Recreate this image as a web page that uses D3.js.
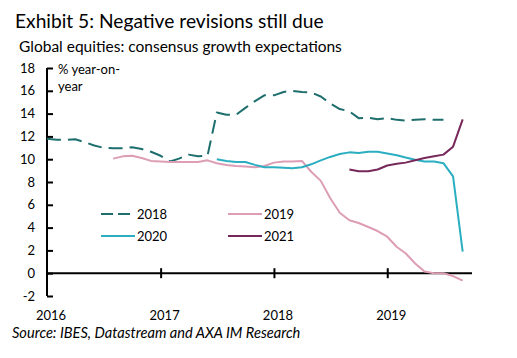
<!DOCTYPE html>
<html>
<head>
<meta charset="utf-8">
<script src="https://cdn.jsdelivr.net/npm/d3@7"></script>
<style>
  html, body { margin: 0; padding: 0; background: #fff; }
  svg { display: block; font-family: Lato, "Open Sans", sans-serif; }
</style>
</head>
<body>
<svg id="chart" width="517" height="358"></svg>
<script>
// ---- data (monthly, index 0 = Jan 2016) ----
const startMonth = "2016-01";
const seriesNames = ["2018", "2019", "2020", "2021"];
const startIdx2018 = 0;
const values2018 = [11.8, 11.7, 11.7, 11.75, 11.5, 11.2, 11.0, 10.95, 10.95, 11.05, 10.9, 10.65,
  10.3, 9.8, 10.05, 10.4, 10.25, 10.3, 14.1, 13.9, 13.9, 14.5, 15.1, 15.6,
  15.6, 15.9, 16.0, 15.9, 15.85, 15.5, 14.9, 14.4, 14.2, 13.6, 13.65, 13.5,
  13.6, 13.45, 13.4, 13.45, 13.5, 13.45, 13.45];
const startIdx2019 = 7;
const values2019 = [10.05, 10.25, 10.3, 10.1, 9.85,
  9.8, 9.75, 9.75, 9.75, 9.75, 9.9, 9.65, 9.5, 9.4, 9.35, 9.3, 9.4,
  9.7, 9.8, 9.8, 9.85, 8.9, 8.1, 6.6, 5.3, 4.65, 4.4, 4.05, 3.7,
  3.2, 2.3, 1.75, 0.85, 0.15, 0.0, 0.0, -0.25, -0.65];
const startIdx2020 = 18;
const values2020 = [10.0, 9.85, 9.75, 9.75, 9.5, 9.3,
  9.3, 9.25, 9.2, 9.3, 9.55, 9.9, 10.2, 10.45, 10.6, 10.55, 10.65, 10.65,
  10.5, 10.35, 10.15, 9.95, 9.8, 9.8, 9.65, 8.5, 1.9];
const startIdx2021 = 32;
const values2021 = [9.1, 8.95, 8.95, 9.1,
  9.45, 9.6, 9.7, 9.9, 10.1, 10.25, 10.4, 11.1, 13.5];
const yTicks = [-2, 0, 2, 4, 6, 8, 10, 12, 14, 16, 18];
const xTickYears = ["2016", "2017", "2018", "2019"];

// ---- styles ----
const colors = { "2018": "#1f6e6e", "2019": "#dc9db5", "2020": "#2aaec0", "2021": "#76285b" };
const dashes = { "2018": "14,7", "2019": null, "2020": null, "2021": null };

const parseMonth = d3.timeParse("%Y-%m");
const t0 = parseMonth(startMonth);
function toSeries(start, vals) {
  return vals.map((v, i) => ({ date: d3.timeMonth.offset(t0, start + i), value: v }));
}
const series = {
  "2018": toSeries(startIdx2018, values2018),
  "2019": toSeries(startIdx2019, values2019),
  "2020": toSeries(startIdx2020, values2020),
  "2021": toSeries(startIdx2021, values2021)
};

const svg = d3.select("#chart");

// titles
svg.append("text").attr("x", 15).attr("y", 28)
  .attr("font-size", 19.2).attr("fill", "#000")
  .text("Exhibit 5: Negative revisions still due");
svg.append("text").attr("x", 19).attr("y", 52)
  .attr("font-size", 15.5).attr("fill", "#000")
  .text("Global equities: consensus growth expectations");

const x = d3.scaleTime()
  .domain([t0, d3.timeMonth.offset(t0, 45)])
  .range([47, 472]);
const y = d3.scaleLinear().domain([-2, 18]).range([296, 68]);

// y axis
const yAxis = d3.axisRight(y).tickValues(yTicks).tickSize(6).tickFormat("");
const gy = svg.append("g").attr("transform", `translate(${x.range()[0]},0)`).call(yAxis);
gy.select(".domain").attr("stroke", "#000").attr("stroke-width", 2)
  .attr("d", `M0,${y(-2)}V${y(18)}`);
gy.selectAll(".tick line").attr("stroke", "#000").attr("stroke-width", 2);
svg.append("g").selectAll("text").data(yTicks).join("text")
  .attr("x", 35).attr("y", d => y(d)).attr("dy", "0.35em")
  .attr("text-anchor", "end").attr("font-size", 13).attr("fill", "#000")
  .text(d => d);

// x axis at zero
const yearDates = xTickYears.map(s => d3.timeParse("%Y")(s));
const xAxis = d3.axisBottom(x).tickValues(yearDates.slice(1)).tickSize(10).tickFormat("");
const gx = svg.append("g").attr("transform", `translate(0,${y(0) - 5})`).call(xAxis);
gx.select(".domain").remove();
gx.selectAll(".tick line").attr("stroke", "#000").attr("stroke-width", 2);
svg.append("line").attr("x1", x.range()[0]).attr("x2", x.range()[1])
  .attr("y1", y(0)).attr("y2", y(0)).attr("stroke", "#000").attr("stroke-width", 2);
svg.append("g").selectAll("text").data(yearDates).join("text")
  .attr("x", d => x(d) + 4).attr("y", 320)
  .attr("text-anchor", "middle").attr("font-size", 13).attr("fill", "#000")
  .text((d, i) => xTickYears[i]);

// unit label
svg.append("text").attr("x", 58).attr("y", 74).attr("font-size", 13).text("% year-on-");
svg.append("text").attr("x", 58).attr("y", 91).attr("font-size", 13).text("year");

// lines
const line = d3.line().x(d => x(d.date)).y(d => y(d.value));
seriesNames.forEach(name => {
  svg.append("path").datum(series[name])
    .attr("fill", "none")
    .attr("stroke", colors[name])
    .attr("stroke-width", 2)
    .attr("stroke-linejoin", "round")
    .attr("stroke-dasharray", dashes[name])
    .attr("d", line);
});

// legend
const legendPos = {
  "2018": [101, 214], "2019": [228, 214],
  "2020": [101, 236], "2021": [228, 236]
};
seriesNames.forEach(name => {
  const [lx, ly] = legendPos[name];
  svg.append("line").attr("x1", lx).attr("x2", lx + 34).attr("y1", ly).attr("y2", ly)
    .attr("stroke", colors[name]).attr("stroke-width", 2)
    .attr("stroke-dasharray", dashes[name] ? "12,5" : null);
  svg.append("text").attr("x", lx + 36).attr("y", ly).attr("dy", "0.35em")
    .attr("font-size", 13).attr("fill", "#000").text(name);
});

// source
svg.append("text").attr("x", 12).attr("y", 338)
  .attr("font-size", 14.6).attr("font-style", "italic").attr("fill", "#000")
  .text("Source: IBES, Datastream and AXA IM Research");
</script>
</body>
</html>
